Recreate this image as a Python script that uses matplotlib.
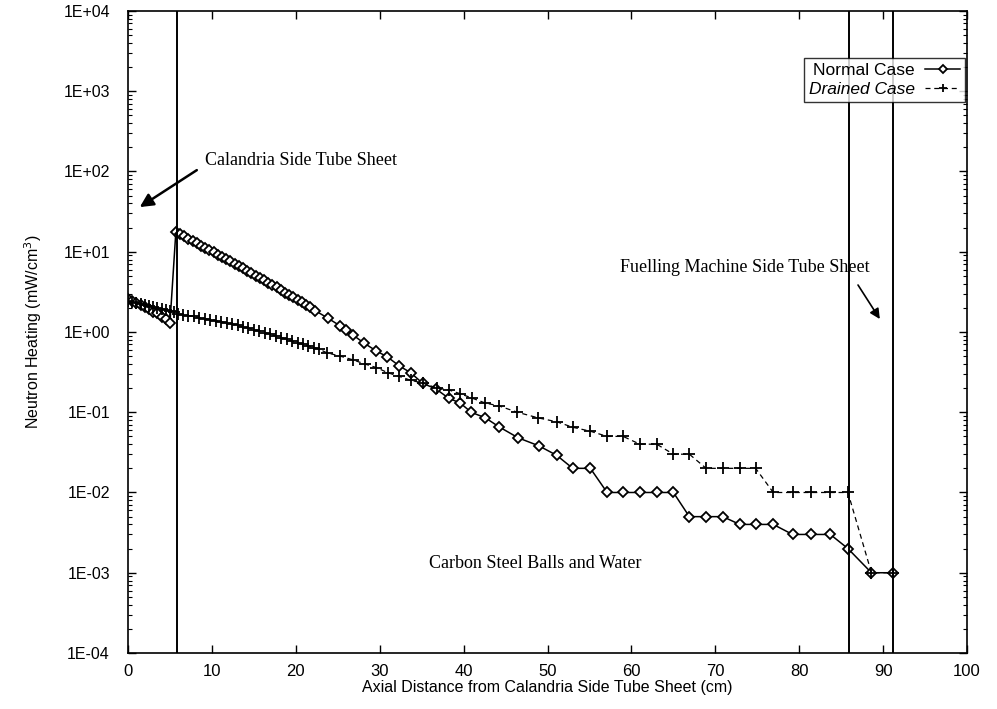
import matplotlib
matplotlib.use('Agg')
import matplotlib.pyplot as plt
from matplotlib.ticker import FixedLocator, LogLocator, NullFormatter

# Normal case (diamonds, solid line)
normal_x = [0.0, 0.5, 1.0, 1.5, 2.0, 2.5, 3.0, 3.5, 4.0, 4.5, 5.0,
            5.7, 6.2, 6.7, 7.2, 7.7, 8.2, 8.7, 9.2, 9.7, 10.2, 10.7, 11.2,
            11.7, 12.2, 12.7, 13.2, 13.7, 14.2, 14.7, 15.2, 15.7, 16.2, 16.7,
            17.2, 17.7, 18.2, 18.7, 19.2, 19.7, 20.2, 20.7, 21.2, 21.7,
            22.3, 23.8, 25.3, 26.0, 26.8, 28.1, 29.6, 30.9, 32.3, 33.7, 35.1,
            36.7, 38.2, 39.6, 40.9, 42.6, 44.2, 46.5, 49.0, 51.1, 53.0, 55.1,
            57.1, 59.0, 61.0, 63.0, 65.0, 66.9, 68.9, 70.9, 72.9, 74.8, 76.9,
            79.2, 81.4, 83.7, 85.8, 88.6, 91.2]
normal_y = [2.6, 2.45, 2.3, 2.2, 2.05, 1.95, 1.8, 1.7, 1.55, 1.45, 1.3,
            17.6, 16.5, 15.5, 14.5, 13.6, 12.7, 11.9, 11.2, 10.5, 9.8, 9.2, 8.6,
            8.1, 7.6, 7.1, 6.6, 6.2, 5.8, 5.4, 5.0, 4.7, 4.4, 4.1,
            3.8, 3.6, 3.3, 3.1, 2.9, 2.7, 2.5, 2.35, 2.2, 2.05,
            1.85, 1.49, 1.19, 1.06, 0.92, 0.73, 0.58, 0.49, 0.38, 0.31, 0.23,
            0.195, 0.15, 0.13, 0.10, 0.085, 0.066, 0.048, 0.038, 0.029, 0.02, 0.02,
            0.01, 0.01, 0.01, 0.01, 0.01, 0.005, 0.005, 0.005, 0.004, 0.004, 0.004,
            0.003, 0.003, 0.003, 0.002, 0.001, 0.001]

# Drained case (plus signs, dashed line)
drained_x = [0.0, 0.5, 1.0, 1.5, 2.0, 2.5, 3.0, 3.5, 4.0, 4.5, 5.0, 5.5,
             5.9, 6.55, 7.2, 7.85, 8.5, 9.15, 9.8, 10.45, 11.1, 11.75, 12.4,
             13.05, 13.7, 14.35, 15.0, 15.65, 16.3, 16.95, 17.6, 18.25, 18.9,
             19.55, 20.2, 20.85, 21.5, 22.15, 22.8,
             23.7, 25.3, 26.8, 28.2, 29.6, 31.0, 32.3, 33.7, 35.2, 36.8, 38.2,
             39.6, 41.0, 42.6, 44.2, 46.4, 48.9, 51.1, 53.0, 55.1, 57.1, 59.0,
             61.0, 63.0, 65.0, 66.9, 68.9, 70.9, 72.9, 74.8, 76.9, 79.2, 81.4,
             83.7, 85.8, 88.6, 91.2]
drained_y = [2.4, 2.35, 2.3, 2.25, 2.2, 2.1, 2.05, 2.0, 1.95, 1.9, 1.85, 1.8,
             1.68, 1.64, 1.60, 1.56, 1.51, 1.47, 1.43, 1.39, 1.34, 1.30, 1.26,
             1.21, 1.16, 1.12, 1.07, 1.03, 0.98, 0.94, 0.89, 0.85, 0.81,
             0.77, 0.73, 0.70, 0.67, 0.64, 0.61,
             0.55, 0.50, 0.45, 0.40, 0.36, 0.31, 0.28, 0.25, 0.23, 0.20, 0.19,
             0.17, 0.15, 0.13, 0.12, 0.10, 0.085, 0.076, 0.065, 0.058, 0.05, 0.05,
             0.04, 0.04, 0.03, 0.03, 0.02, 0.02, 0.02, 0.02, 0.01, 0.01, 0.01,
             0.01, 0.01, 0.001, 0.001]

sheet_x = [5.85, 85.9, 91.2]  # tube sheet boundaries
x_ticks = [0, 10, 20, 30, 40, 50, 60, 70, 80, 90, 100]
y_ticks = [1e-4, 1e-3, 1e-2, 1e-1, 1e0, 1e1, 1e2, 1e3, 1e4]
y_labels = ['1E-04', '1E-03', '1E-02', '1E-01', '1E+00', '1E+01', '1E+02', '1E+03', '1E+04']

plt.rcParams['font.family'] = ['Liberation Sans', 'DejaVu Sans']

fig = plt.figure(figsize=(9.97, 7.09), dpi=100)
ax = fig.add_axes([0.1284, 0.079, 0.8416, 0.9055])

ax.plot(normal_x, normal_y, '-', color='black', lw=1.1, marker='D', ms=5.5,
        mfc='white', mec='black', mew=1.3, label='Normal Case')
ax.plot(drained_x, drained_y, '--', color='black', lw=0.9, dashes=(4, 3),
        marker='+', ms=8, mew=1.3, label='Drained Case')

for xv in sheet_x:
    ax.axvline(xv, color='black', lw=1.4)

ax.set_yscale('log')
ax.set_xlim(0, 100)
ax.set_ylim(1e-4, 1e4)
ax.xaxis.set_major_locator(FixedLocator(x_ticks))
ax.set_xticklabels([str(t) for t in x_ticks], fontsize=12)
ax.set_yticks(y_ticks)
ax.set_yticklabels(y_labels, fontsize=11.5)
ax.yaxis.set_minor_locator(LogLocator(base=10, subs=range(2, 10), numticks=20))
ax.yaxis.set_minor_formatter(NullFormatter())
ax.tick_params(which='both', direction='in', top=True, right=True)
ax.tick_params(which='major', length=6, width=1)
ax.tick_params(which='minor', length=3, width=0.8)
ax.tick_params(axis='x', pad=8)
ax.tick_params(axis='y', pad=13)
for sp in ax.spines.values():
    sp.set_linewidth(1.2)

ax.set_xlabel('Axial Distance from Calandria Side Tube Sheet (cm)', fontsize=11.5, labelpad=1)
ax.set_ylabel('Neutron Heating (mW/cm$^3$)', fontsize=11.5, labelpad=14)

leg = ax.legend(loc='upper right', bbox_to_anchor=(0.9976, 0.927), markerfirst=False,
                frameon=True, fancybox=False, edgecolor='black', fontsize=12.5,
                handlelength=2.0, borderpad=0.3, labelspacing=0.2, borderaxespad=0,
                handletextpad=0.6, markerscale=0.8)
leg.get_frame().set_linewidth(1.0)
leg.get_texts()[1].set_style('italic')

serif = ['Liberation Serif', 'DejaVu Serif']
arrow = dict(arrowstyle='-|>', color='black', lw=1.8, mutation_scale=20,
             shrinkA=0, shrinkB=0)
ax.text(9.2, 139, 'Calandria Side Tube Sheet', fontsize=13, family=serif,
        va='center', ha='left')
ax.annotate('', xy=(1.4, 36), xytext=(8.2, 104), arrowprops=arrow)
ax.text(88.4, 6.3, 'Fuelling Machine Side Tube Sheet', fontsize=13, family=serif,
        va='center', ha='right')
ax.annotate('', xy=(89.6, 1.45), xytext=(87.0, 3.85),
            arrowprops=dict(arrow, lw=1.2, mutation_scale=15))
ax.text(48.5, 1.3e-3, 'Carbon Steel Balls and Water', fontsize=13, family=serif,
        ha='center', va='center')

fig.savefig('out.png', dpi=100)
